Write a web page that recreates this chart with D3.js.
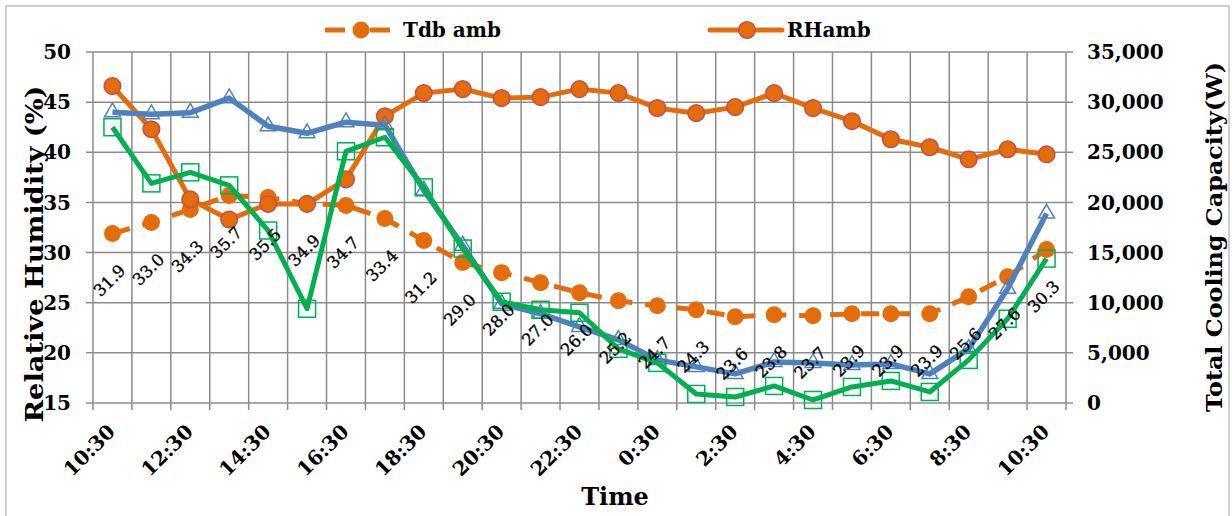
<!DOCTYPE html>
<html><head><meta charset="utf-8">
<script src="https://cdn.jsdelivr.net/npm/d3@7"></script>
<style>html,body{margin:0;padding:0;background:#fff;} svg{display:block;font-family:"DejaVu Serif",serif;}</style>
</head><body><svg id="c" width="1232" height="516"></svg>
<script>
const times = ["10:30","11:30","12:30","13:30","14:30","15:30","16:30","17:30","18:30","19:30","20:30","21:30","22:30","23:30","0:30","1:30","2:30","3:30","4:30","5:30","6:30","7:30","8:30","9:30","10:30 "];
const tdbAmb = [31.9,33.0,34.3,35.7,35.5,34.9,34.7,33.4,31.2,29.0,28.0,27.0,26.0,25.2,24.7,24.3,23.6,23.8,23.7,23.9,23.9,23.9,25.6,27.6,30.3];
const rhAmb = [46.6,42.3,35.3,33.3,34.85,34.85,37.3,43.6,45.9,46.3,45.4,45.5,46.3,45.9,44.4,43.9,44.5,45.9,44.4,43.1,41.3,40.5,39.3,40.3,39.8];
const coolBlue = [29000,28800,28950,30400,27600,26900,28000,27700,21200,15700,9900,8900,7600,6300,4300,3600,2900,4100,4000,3800,3900,2900,5400,11400,18900];
const coolGreen = [27500,21900,23000,21700,17200,9400,25100,26500,21500,15400,10100,9300,9000,5400,4000,900,600,1700,300,1600,2200,1100,4300,8400,14400];
const leftTicks = [15,20,25,30,35,40,45,50];
const rightTicks = [0,5000,10000,15000,20000,25000,30000,35000];
const seriesNames = ["Tdb amb","RHamb"];

const svg = d3.select("#c");
const L=93, R=1066, T=52, B=403;
const orange="#E46C0A", blue="#4F81BD", green="#00B050", grid="#8C8C8C";

svg.append("rect").attr("x",6).attr("y",6).attr("width",1223).attr("height",530)
  .attr("fill","none").attr("stroke","#BFBFBF").attr("stroke-width",1.5);

const x = d3.scaleBand().domain(times).range([L,R]).paddingInner(0).paddingOuter(0);
const cx = d => x(d)+x.bandwidth()/2;
const yL = d3.scaleLinear().domain([15,50]).range([B,T]);
const yR = d3.scaleLinear().domain([0,35000]).range([B,T]);

// gridlines
const g = svg.append("g");
leftTicks.forEach(v=>{
  g.append("line").attr("x1",L-7).attr("x2",R+7).attr("y1",yL(v)).attr("y2",yL(v)).attr("stroke",grid).attr("stroke-width",1.5);
});
const bounds = times.map(t=>x(t)).concat([R]);
bounds.forEach(bx=>{
  g.append("line").attr("x1",bx).attr("x2",bx).attr("y1",T).attr("y2",B+7).attr("stroke",grid).attr("stroke-width",1.5);
});

// axis labels
svg.append("g").selectAll("text").data(leftTicks).join("text")
  .attr("x",71).attr("y",d=>yL(d)).attr("dy","0.36em").attr("text-anchor","end")
  .attr("font-size",20).attr("font-weight","bold").text(d=>d);
const fmt = d3.format(",");
svg.append("g").selectAll("text").data(rightTicks).join("text")
  .attr("x",1087).attr("y",d=>yR(d)).attr("dy","0.36em").attr("text-anchor","start")
  .attr("font-size",20).attr("font-weight","bold").text(d=>fmt(d));
svg.append("g").selectAll("text").data(times.filter((t,i)=>i%2===0)).join("text")
  .attr("transform",d=>`translate(${cx(d)+4},433) rotate(-45)`).attr("text-anchor","end")
  .attr("font-size",20).attr("font-weight","bold").text(d=>d.trim());

// titles
svg.append("text").attr("transform","translate(43,254) rotate(-90)").attr("text-anchor","middle")
  .attr("font-size",24).attr("font-weight","bold")
  .attr("textLength",337).attr("lengthAdjust","spacingAndGlyphs").text("Relative Humidity (%)");
svg.append("text").attr("transform","translate(1222,237) rotate(-90)").attr("text-anchor","middle")
  .attr("font-size",23).attr("font-weight","bold")
  .attr("textLength",350).attr("lengthAdjust","spacingAndGlyphs").text("Total Cooling Capacity(W)");
svg.append("text").attr("x",615).attr("y",505).attr("text-anchor","middle")
  .attr("font-size",24).attr("font-weight","bold").text("Time");

// series
const lineL = d3.line().x((d,i)=>cx(times[i])).y(d=>yL(d));
const lineR = d3.line().x((d,i)=>cx(times[i])).y(d=>yR(d));

svg.append("path").attr("d",lineL(tdbAmb)).attr("fill","none").attr("stroke",orange)
  .attr("stroke-width",5).attr("stroke-dasharray","18,13");
svg.append("g").selectAll("circle").data(tdbAmb).join("circle")
  .attr("cx",(d,i)=>cx(times[i])).attr("cy",d=>yL(d)).attr("r",8.5).attr("fill",orange);

svg.append("path").attr("d",lineL(rhAmb)).attr("fill","none").attr("stroke",orange).attr("stroke-width",5);
svg.append("g").selectAll("circle").data(rhAmb).join("circle")
  .attr("cx",(d,i)=>cx(times[i])).attr("cy",d=>yL(d)).attr("r",8.3).attr("fill",orange)
  .attr("stroke","#C0504D").attr("stroke-width",1.5);

svg.append("path").attr("d",lineR(coolBlue)).attr("fill","none").attr("stroke",blue).attr("stroke-width",5.5).attr("stroke-linejoin","round");
const tri = d3.symbol().type(d3.symbolTriangle).size(110);
svg.append("g").selectAll("path").data(coolBlue).join("path")
  .attr("transform",(d,i)=>`translate(${cx(times[i])},${yR(d)})`).attr("d",tri())
  .attr("fill","none").attr("stroke",blue).attr("stroke-width",1.5);

svg.append("path").attr("d",lineR(coolGreen)).attr("fill","none").attr("stroke",green).attr("stroke-width",5).attr("stroke-linejoin","round");
svg.append("g").selectAll("rect").data(coolGreen).join("rect")
  .attr("x",(d,i)=>cx(times[i])-8.5).attr("y",d=>yR(d)-8.5).attr("width",17).attr("height",17)
  .attr("fill","none").attr("stroke",green).attr("stroke-width",1.5);

// data labels
svg.append("g").selectAll("text").data(tdbAmb).join("text")
  .attr("transform",(d,i)=>`translate(${cx(times[i])-3},${yL(d)+47}) rotate(-45)`)
  .attr("text-anchor","middle").attr("dy","0.35em").attr("font-size",16.5).attr("fill","#000")
  .attr("stroke","#000").attr("stroke-width",0.35)
  .text(d=>d.toFixed(1));

// legend
const lg = svg.append("g");
lg.append("line").attr("x1",325).attr("x2",345).attr("y1",30).attr("y2",30).attr("stroke",orange).attr("stroke-width",5);
lg.append("line").attr("x1",370).attr("x2",390).attr("y1",30).attr("y2",30).attr("stroke",orange).attr("stroke-width",5);
lg.append("circle").attr("cx",361).attr("cy",30).attr("r",8.5).attr("fill",orange);
lg.append("text").attr("x",403).attr("y",37).attr("font-size",20).attr("font-weight","bold").text(seriesNames[0]);
lg.append("line").attr("x1",710).attr("x2",782).attr("y1",30).attr("y2",30).attr("stroke",orange).attr("stroke-width",5).attr("stroke-linecap","round");
lg.append("circle").attr("cx",747).attr("cy",30).attr("r",8.3).attr("fill",orange).attr("stroke","#C0504D").attr("stroke-width",1.5);
lg.append("text").attr("x",787).attr("y",37).attr("font-size",20).attr("font-weight","bold").text(seriesNames[1]);
</script></body></html>
